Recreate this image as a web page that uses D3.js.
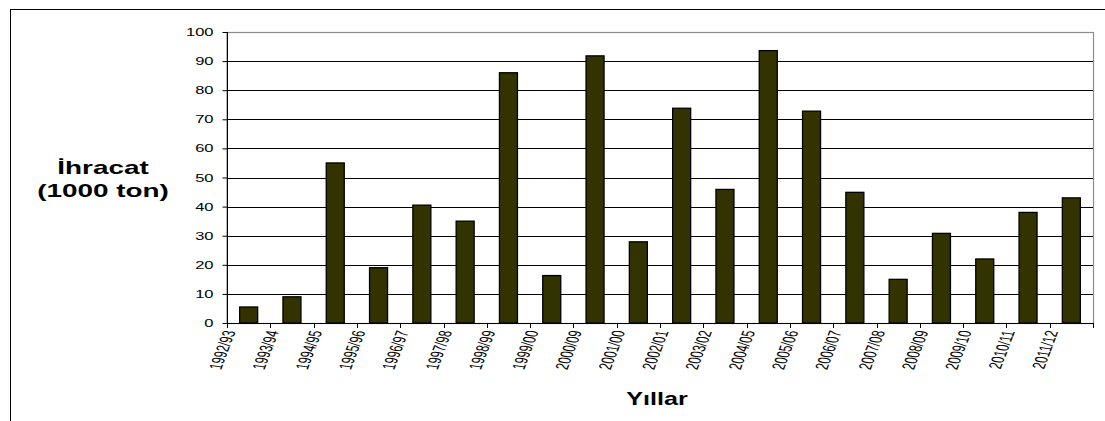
<!DOCTYPE html>
<html>
<head>
<meta charset="utf-8">
<script src="https://cdn.jsdelivr.net/npm/d3@7"></script>
<style>
  html, body { margin: 0; padding: 0; background: #fff; }
  svg { display: block; font-family: "Liberation Sans", Arial, sans-serif; }
</style>
</head>
<body>
<svg id="chart" width="1105" height="421"></svg>
<script>
const categories = ["1992/93","1993/94","1994/95","1995/96","1996/97","1997/98","1998/99","1999/00","2000/09","2001/00","2002/01","2003/02","2004/05","2005/06","2006/07","2007/08","2008/09","2009/10","2010/11","2011/12"];
const exportValues = [5.5, 9, 55, 19, 40.5, 35, 86, 16.3, 91.8, 27.9, 73.8, 45.9, 93.6, 72.8, 44.9, 15, 30.8, 22, 38, 43];
const yTicks = [0,10,20,30,40,50,60,70,80,90,100];
const yTitleLines = ["İhracat", "(1000 ton)"];
const xTitle = "Yıllar";

const svg = d3.select("#chart");
const pL = 227, pR = 1093, pT = 32, pB = 323;
const SX = 1.65;

// outer frame
svg.append("rect").attr("x", 10.5).attr("y", 9.5).attr("width", 1100).attr("height", 420)
  .attr("fill", "none").attr("stroke", "#000").attr("stroke-width", 1);

const x = d3.scaleBand().domain(categories).range([pL, pR]).paddingInner(0.584).paddingOuter(0.292);
const y = d3.scaleLinear().domain([0, 100]).range([pB, pT]);

// plot border
svg.append("rect").attr("x", pL).attr("y", pT + 0.5).attr("width", pR - pL + 0.5).attr("height", pB - pT)
  .attr("fill", "none").attr("stroke", "#8c8c8c").attr("stroke-width", 1.2);

// gridlines
svg.append("g").selectAll("line").data(yTicks.filter(d => d > 0 && d < 100)).join("line")
  .attr("x1", pL).attr("x2", pR)
  .attr("y1", d => Math.round(y(d)) + 0.5).attr("y2", d => Math.round(y(d)) + 0.5)
  .attr("stroke", "#000").attr("stroke-width", 1);

// bars
svg.append("g").selectAll("rect").data(categories).join("rect")
  .attr("x", (d) => x(d))
  .attr("width", x.bandwidth())
  .attr("y", (d, i) => y(exportValues[i]))
  .attr("height", (d, i) => y(0) - y(exportValues[i]))
  .attr("fill", "#333300").attr("stroke", "#000").attr("stroke-width", 1.3);

// y axis
const yAxis = svg.append("g").attr("transform", `translate(${pL + 0.5},0)`)
  .call(d3.axisLeft(y).tickValues(yTicks).tickSize(5).tickPadding(0));
yAxis.select(".domain").attr("stroke", "#000").attr("d", `M0,${pT}V${pB}`);
yAxis.selectAll(".tick line").attr("stroke", "#000");
yAxis.selectAll(".tick text")
  .attr("x", null).attr("dy", "0.35em")
  .attr("transform", `translate(-14,0) scale(${SX},1)`)
  .attr("font-size", 10).attr("fill", "#000")
  .attr("font-family", "Liberation Sans, Arial, sans-serif");

// x axis: labels
const xAxis = svg.append("g").attr("transform", `translate(0,${pB + 0.5})`)
  .call(d3.axisBottom(x).tickSize(0).tickPadding(0));
xAxis.select(".domain").attr("stroke", "#000").attr("d", `M${pL},0H${pR}`);
xAxis.selectAll(".tick text")
  .attr("y", null).attr("dy", null)
  .attr("text-anchor", "end")
  .attr("transform", `translate(-13,8) scale(${SX},1) rotate(-77)`)
  .attr("font-size", 11).attr("fill", "#000")
  .attr("font-family", "Liberation Sans, Arial, sans-serif");

// x boundary ticks
const bounds = categories.map(c => x(c) - (x.step() - x.bandwidth()) / 2).concat([pR]);
svg.append("g").selectAll("line").data(bounds).join("line")
  .attr("x1", d => Math.round(d) + 0.5).attr("x2", d => Math.round(d) + 0.5)
  .attr("y1", pB).attr("y2", pB + 5)
  .attr("stroke", "#000");

// y title
svg.append("g").selectAll("text").data(yTitleLines).join("text")
  .attr("transform", (d, i) => `translate(103,${174 + i * 23}) scale(1.55,1)`)
  .attr("text-anchor", "middle")
  .attr("font-weight", "bold").attr("font-size", 18).attr("fill", "#000")
  .text(d => d);

// x title
svg.append("text")
  .attr("transform", `translate(657,405) scale(1.4,1)`)
  .attr("text-anchor", "middle")
  .attr("font-weight", "bold").attr("font-size", 18).attr("fill", "#000")
  .text(xTitle);
</script>
</body>
</html>
